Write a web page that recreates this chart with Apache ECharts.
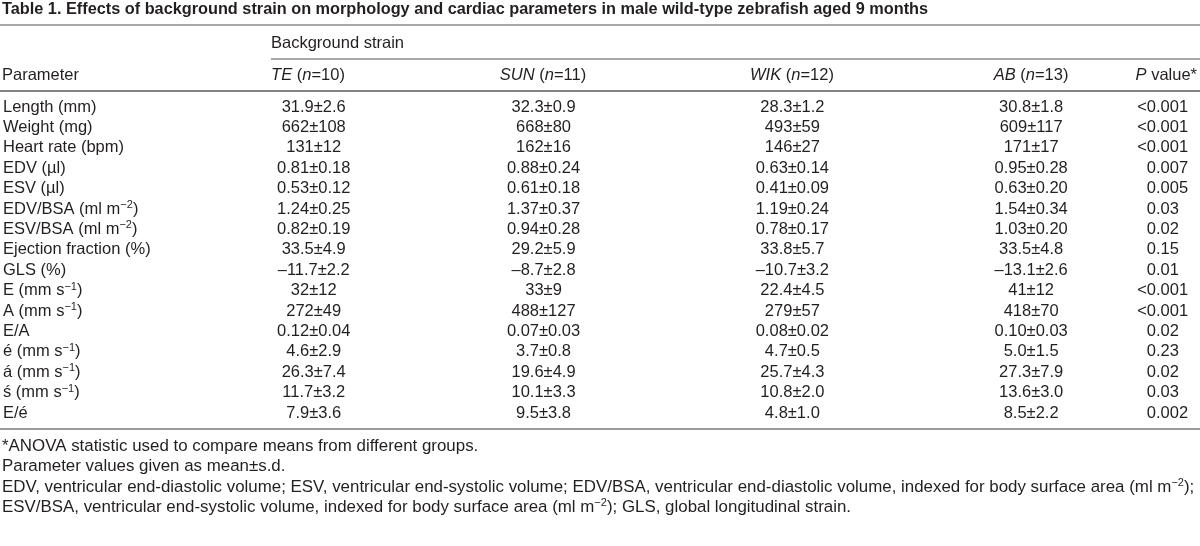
<!DOCTYPE html>
<html><head><meta charset="utf-8">
<script src="https://cdn.jsdelivr.net/npm/echarts@6/dist/echarts.min.js"></script>
<style>html,body{margin:0;padding:0;background:#fff}#c{width:1200px;height:546px}</style>
</head><body><div id="c"></div>
<script>
// ---- data ----
const titleText = 'Table 1. Effects of background strain on morphology and cardiac parameters in male wild-type zebrafish aged 9 months';
const groupHeader = 'Background strain';
const paramHeader = 'Parameter';
const strains = ['TE', 'SUN', 'WIK', 'AB'];
const strainN = [10, 11, 12, 13];
const pHeader = '{i|P} value*';
const parameters = [
  'Length (mm)', 'Weight (mg)', 'Heart rate (bpm)', 'EDV (µl)', 'ESV (µl)',
  'EDV/BSA (ml m{sup|−2})', 'ESV/BSA (ml m{sup|−2})', 'Ejection fraction (%)', 'GLS (%)',
  'E (mm s{sup|−1})', 'A (mm s{sup|−1})', 'E/A', 'é (mm s{sup|−1})', 'á (mm s{sup|−1})',
  'ś (mm s{sup|−1})', 'E/é'
];
const teValues  = ['31.9±2.6','662±108','131±12','0.81±0.18','0.53±0.12','1.24±0.25','0.82±0.19','33.5±4.9','–11.7±2.2','32±12','272±49','0.12±0.04','4.6±2.9','26.3±7.4','11.7±3.2','7.9±3.6'];
const sunValues = ['32.3±0.9','668±80','162±16','0.88±0.24','0.61±0.18','1.37±0.37','0.94±0.28','29.2±5.9','–8.7±2.8','33±9','488±127','0.07±0.03','3.7±0.8','19.6±4.9','10.1±3.3','9.5±3.8'];
const wikValues = ['28.3±1.2','493±59','146±27','0.63±0.14','0.41±0.09','1.19±0.24','0.78±0.17','33.8±5.7','–10.7±3.2','22.4±4.5','279±57','0.08±0.02','4.7±0.5','25.7±4.3','10.8±2.0','4.8±1.0'];
const abValues  = ['30.8±1.8','609±117','171±17','0.95±0.28','0.63±0.20','1.54±0.34','1.03±0.20','33.5±4.8','–13.1±2.6','41±12','418±70','0.10±0.03','5.0±1.5','27.3±7.9','13.6±3.0','8.5±2.2'];
const pValues   = ['<0.001','<0.001','<0.001','0.007','0.005','0.03','0.02','0.15','0.01','<0.001','<0.001','0.02','0.23','0.02','0.03','0.002'];
const footnotes = [
  '*ANOVA statistic used to compare means from different groups.',
  'Parameter values given as mean±s.d.',
  'EDV, ventricular end-diastolic volume; ESV, ventricular end-systolic volume; EDV/BSA, ventricular end-diastolic volume, indexed for body surface area (ml m{sup|−2});',
  'ESV/BSA, ventricular end-systolic volume, indexed for body surface area (ml m{sup|−2}); GLS, global longitudinal strain.'
];

// ---- layout / style ----
const W = 1200;
const FONT = '"Liberation Sans", Arial, Helvetica, sans-serif';
const INK = '#231f20';
const FS = 16.5;
const FS_FOOT = 16.9;
const colCenter = [313, 543, 792, 1031];
const headCenter = [308, 543, 792, 1031];
const pDecimalX = 1156;
const rowTop = 96.8, rowBand = 20.4;
function richFor(size) {
  return {
    sup: { fontSize: 11, fontFamily: FONT, color: INK, padding: [0, 0, 8, 0] },
    i: { fontStyle: 'italic', fontSize: size, fontFamily: FONT, color: INK }
  };
}

const cols = [teValues, sunValues, wikValues, abValues];
const cellData = [];
cols.forEach((arr, c) => arr.forEach((v, r) => cellData.push([c, r, v])));
const pData = pValues.map((v, r) => [4, r, v]);

function txt(x, y, text, opt) {
  opt = opt || {};
  const size = opt.size || FS;
  return {
    type: 'text', x: x, y: y, silent: true,
    style: {
      text: text, fill: INK, font: (opt.bold ? 'bold ' : '') + size + 'px ' + FONT,
      align: opt.align || 'left', verticalAlign: 'middle', rich: richFor(size)
    }
  };
}
function hline(x1, x2, y, color, w) {
  return { type: 'line', silent: true, shape: { x1: x1, y1: y, x2: x2, y2: y }, style: { stroke: color, lineWidth: w } };
}

const graphics = [
  txt(2, 10, titleText, { bold: true, size: 16.3 }),
  hline(0, W, 25, '#8c8c8c', 1.5),
  txt(271, 43, groupHeader),
  hline(271, W, 59, '#8c8c8c', 1.5),
  txt(2, 75, paramHeader),
  hline(0, W, 91, '#5a5a5a', 1.5),
  hline(0, W, 429, '#7a7a7a', 1.5)
];
strains.forEach((s, k) => graphics.push(txt(headCenter[k], 75, '{i|' + s + '} ({i|n}=' + strainN[k] + ')', { align: 'center' })));
graphics.push(txt(1197, 75, pHeader, { align: 'right' }));
const footY = [446, 466, 487, 507];
footnotes.forEach((f, k) => graphics.push(txt(2, footY[k], f, { size: FS_FOOT })));

const chart = echarts.init(document.getElementById('c'), null, { renderer: 'canvas' });
chart.setOption({
  animation: false,
  backgroundColor: '#ffffff',
  grid: { left: 0, right: 0, top: rowTop, height: rowBand * parameters.length },
  xAxis: { type: 'value', min: 0, max: W, show: false },
  yAxis: {
    type: 'category', data: parameters, inverse: true,
    axisLine: { show: false }, axisTick: { show: false }, splitLine: { show: false },
    axisLabel: { interval: 0, inside: true, margin: 2, color: INK, fontSize: FS, fontFamily: FONT, rich: richFor(FS) }
  },
  graphic: graphics,
  series: [
    {
      type: 'custom', data: cellData, silent: true,
      renderItem: function (params, api) {
        const c = api.value(0), r = api.value(1);
        const p = api.coord([colCenter[c], r]);
        const v = cellData[params.dataIndex][2];
        return { type: 'text', x: p[0], y: p[1], style: { text: v, fill: INK, font: FS + 'px ' + FONT, align: 'center', verticalAlign: 'middle' } };
      }
    },
    {
      type: 'custom', data: pData, silent: true,
      renderItem: function (params, api) {
        const r = api.value(1);
        const p = api.coord([pDecimalX, r]);
        const v = pData[params.dataIndex][2];
        const k = v.indexOf('.');
        return {
          type: 'group', children: [
            { type: 'text', x: p[0], y: p[1], style: { text: v.slice(0, k), fill: INK, font: FS + 'px ' + FONT, align: 'right', verticalAlign: 'middle' } },
            { type: 'text', x: p[0], y: p[1], style: { text: v.slice(k), fill: INK, font: FS + 'px ' + FONT, align: 'left', verticalAlign: 'middle' } }
          ]
        };
      }
    }
  ]
});
</script></body></html>
